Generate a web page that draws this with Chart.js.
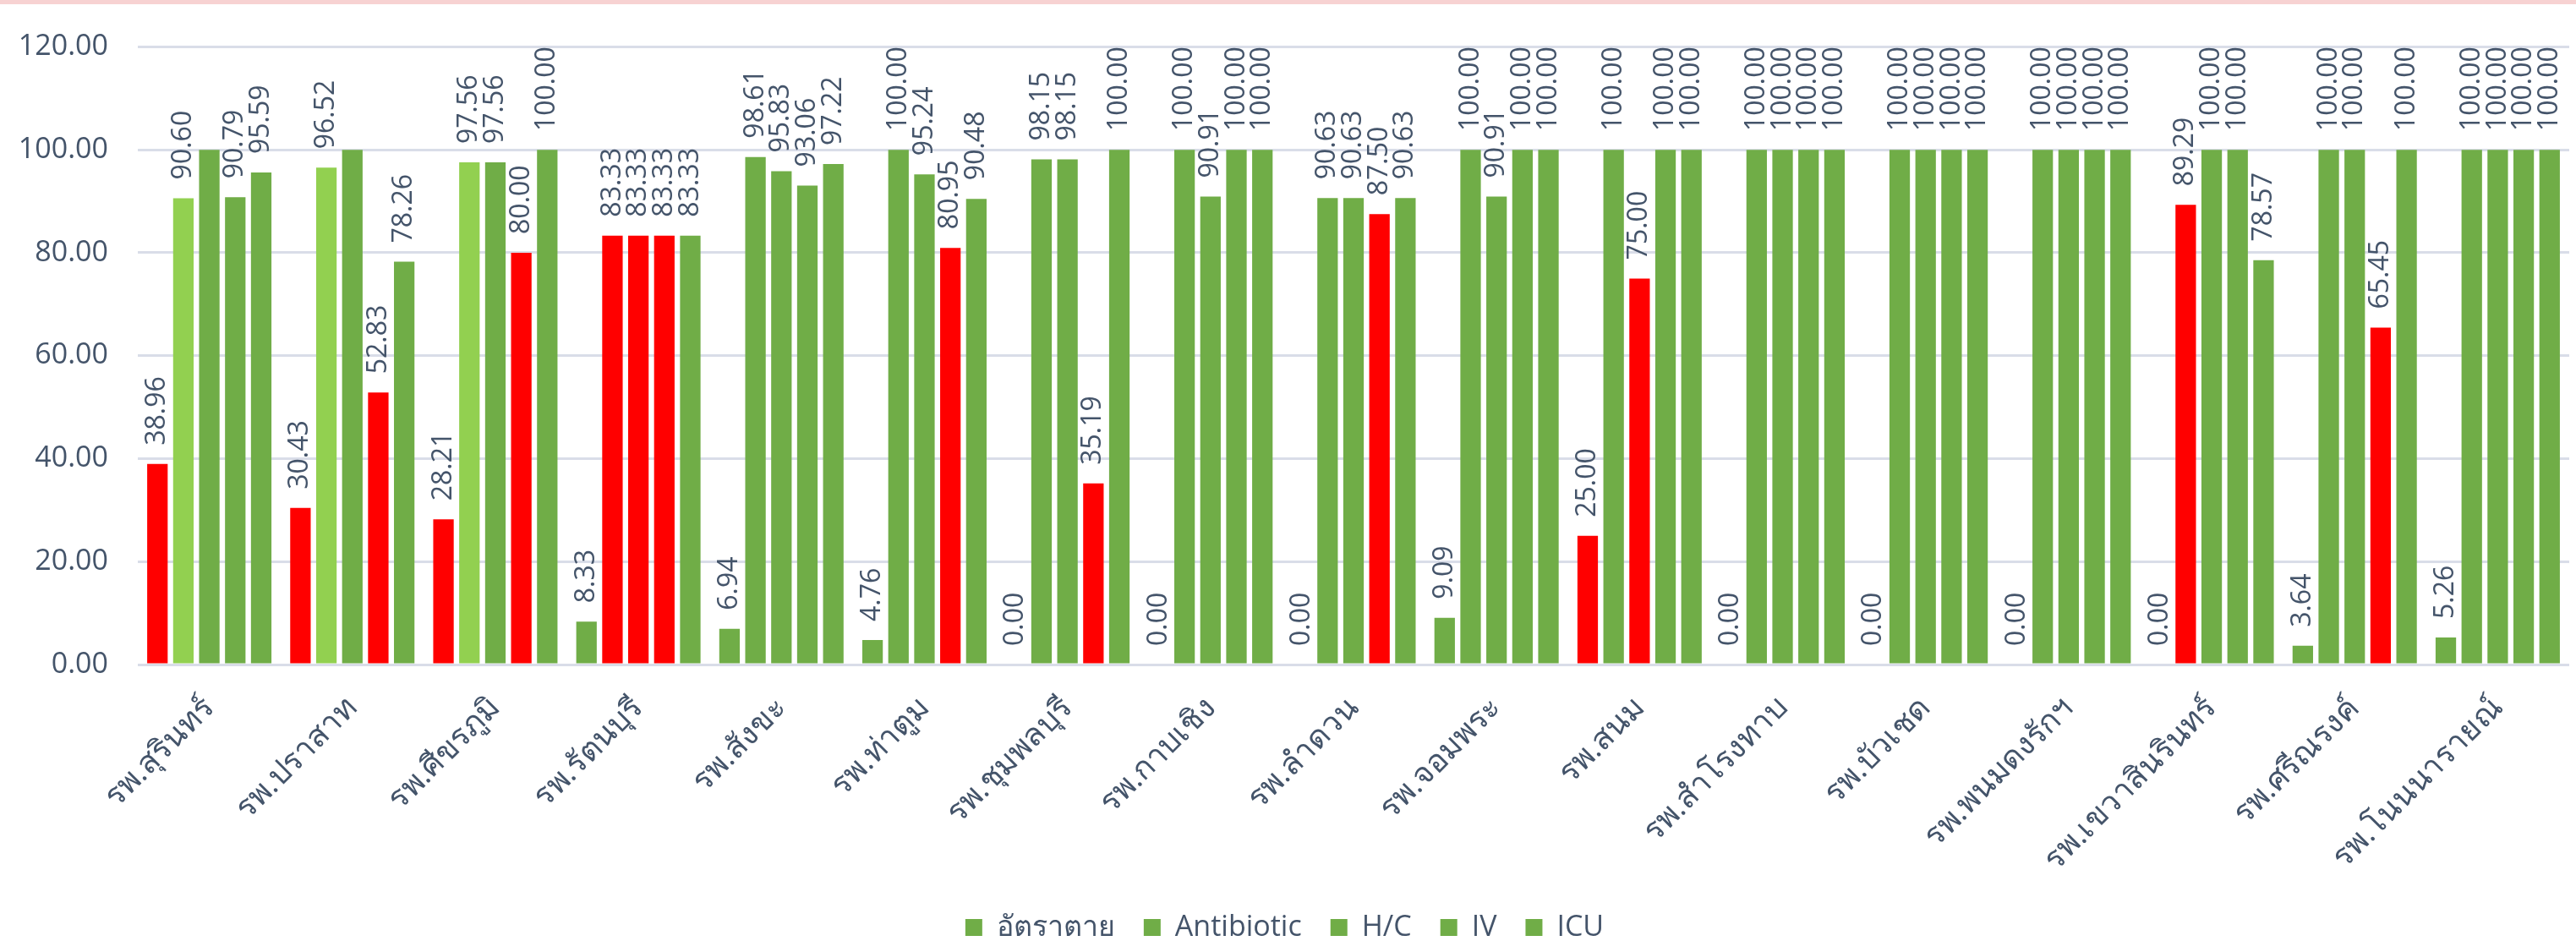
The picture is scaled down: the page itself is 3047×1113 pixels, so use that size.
<!DOCTYPE html>
<html lang="th">
<head>
    <meta charset="UTF-8">
    <title>ตัวชี้วัดโรงพยาบาล</title>
    <script src="https://cdn.jsdelivr.net/npm/chart.js"></script>
    <style>
        html, body {
            margin: 0;
            padding: 0;
            background: #fff;
        }

        .wrap {
            position: relative;
            width: 3047px;
            height: 1113px;
        }

        .top-strip {
            position: absolute;
            left: 0;
            top: 0;
            width: 100%;
            height: 5px;
            background: #f7d2d2;
        }
    </style>
</head>
<body>
    <div class="wrap">
        <canvas id="chart" width="3047" height="1113"></canvas>
        <div class="top-strip"></div>
    </div>

    <script>
        const hospitals = [
            'รพ.สุรินทร์', 'รพ.ปราสาท', 'รพ.ศีขรภูมิ', 'รพ.รัตนบุรี', 'รพ.สังขะ', 'รพ.ท่าตูม',
            'รพ.ชุมพลบุรี', 'รพ.กาบเชิง', 'รพ.ลำดวน', 'รพ.จอมพระ', 'รพ.สนม', 'รพ.สำโรงทาบ',
            'รพ.บัวเชด', 'รพ.พนมดงรักฯ', 'รพ.เขวาสินรินทร์', 'รพ.ศรีณรงค์', 'รพ.โนนนารายณ์'
        ];
        const seriesNames = ['อัตราตาย', 'Antibiotic', 'H/C', 'IV', 'ICU'];

        const deathRate  = [38.96, 30.43, 28.21, 8.33, 6.94, 4.76, 0, 0, 0, 9.09, 25.00, 0, 0, 0, 0, 3.64, 5.26];
        const antibiotic = [90.60, 96.52, 97.56, 83.33, 98.61, 100, 98.15, 100, 90.63, 100, 100, 100, 100, 100, 89.29, 100, 100];
        const hc         = [100, 100, 97.56, 83.33, 95.83, 95.24, 98.15, 90.91, 90.63, 90.91, 75.00, 100, 100, 100, 100, 100, 100];
        const iv         = [90.79, 52.83, 80.00, 83.33, 93.06, 80.95, 35.19, 100, 87.50, 100, 100, 100, 100, 100, 100, 65.45, 100];
        const icu        = [95.59, 78.26, 100, 83.33, 97.22, 90.48, 100, 100, 90.63, 100, 100, 100, 100, 100, 78.57, 100, 100];

        const yTicks = [0, 20, 40, 60, 80, 100, 120];

        // thresholds used to colour the bars
        const deathLimit = 10;
        const target = 90;
        const bigHospitals = ['รพ.สุรินทร์', 'รพ.ปราสาท', 'รพ.ศีขรภูมิ'];
        // [series, hospital] pairs whose value label is not shown
        const hiddenLabels = [[2, 0], [2, 1]];

        const RED = '#FF0000';
        const GREEN = '#70AD47';
        const LIGHT = '#92D050';
        const TEXT = '#44546A';
        const FONT = '"Open Sans", "Noto Sans", sans-serif';

        function barColor(series, i, v) {
            if (series === 0) return v > deathLimit ? RED : GREEN;
            if (series === 4) return GREEN;
            if (v < target) return RED;
            if (series === 1 && bigHospitals.includes(hospitals[i])) return LIGHT;
            return GREEN;
        }

        const allSeries = [deathRate, antibiotic, hc, iv, icu];

        const valueLabels = {
            id: 'valueLabels',
            afterDatasetsDraw(chart) {
                const ctx = chart.ctx;
                ctx.save();
                ctx.font = '32px ' + FONT;
                ctx.fillStyle = TEXT;
                ctx.textAlign = 'left';
                ctx.textBaseline = 'middle';
                chart.data.datasets.forEach((ds, di) => {
                    const meta = chart.getDatasetMeta(di);
                    meta.data.forEach((bar, i) => {
                        if (hiddenLabels.some(h => h[0] === di && h[1] === i)) return;
                        ctx.save();
                        ctx.translate(bar.x, bar.y - 22);
                        ctx.rotate(-Math.PI / 2);
                        ctx.fillText(ds.data[i].toFixed(2), 0, 0);
                        ctx.restore();
                    });
                });
                ctx.restore();
            }
        };

        // push the legend down to the bottom edge like the original,
        // and let the long rotated hospital names use the freed space
        const legendShift = {
            id: 'legendShift',
            afterLayout(chart) {
                chart.legend.top += 44;
                chart.legend.bottom += 44;
                chart.scales.x.bottom += 44;
            }
        };

        Chart.defaults.font.family = FONT;
        Chart.defaults.color = TEXT;

        new Chart(document.getElementById('chart'), {
            type: 'bar',
            data: {
                labels: hospitals,
                datasets: allSeries.map((values, s) => ({
                    label: seriesNames[s],
                    data: values,
                    backgroundColor: values.map((v, i) => barColor(s, i, v)),
                    borderWidth: 0,
                    categoryPercentage: 0.907,
                    barPercentage: 0.79
                }))
            },
            options: {
                responsive: false,
                animation: false,
                layout: {
                    padding: { left: 0, right: 8, top: 52, bottom: 33 }
                },
                plugins: {
                    tooltip: { enabled: false },
                    legend: {
                        position: 'bottom',
                        labels: {
                            boxWidth: 20,
                            boxHeight: 20,
                            padding: 34,
                            font: { size: 34 },
                            generateLabels: () => seriesNames.map((n, i) => ({
                                text: n,
                                fillStyle: GREEN,
                                strokeStyle: GREEN,
                                lineWidth: 0,
                                hidden: false,
                                datasetIndex: i,
                                fontColor: TEXT
                            }))
                        }
                    }
                },
                scales: {
                    x: {
                        grid: { display: false },
                        border: { display: false },
                        ticks: {
                            autoSkip: false,
                            maxRotation: 45,
                            minRotation: 45,
                            padding: 22,
                            color: TEXT,
                            font: { size: 37 }
                        },
                        afterFit: s => { s.height = 216; }
                    },
                    y: {
                        min: yTicks[0],
                        max: yTicks[yTicks.length - 1],
                        afterBuildTicks: s => { s.ticks = yTicks.map(v => ({ value: v })); },
                        grid: { color: '#d9dde8', lineWidth: 3, drawTicks: false },
                        border: { display: false },
                        ticks: {
                            padding: 35,
                            color: TEXT,
                            font: { size: 34 },
                            callback: v => Number(v).toFixed(2)
                        },
                        afterFit: s => { s.width = 163; }
                    }
                }
            },
            plugins: [valueLabels, legendShift]
        });
    </script>
</body>
</html>
